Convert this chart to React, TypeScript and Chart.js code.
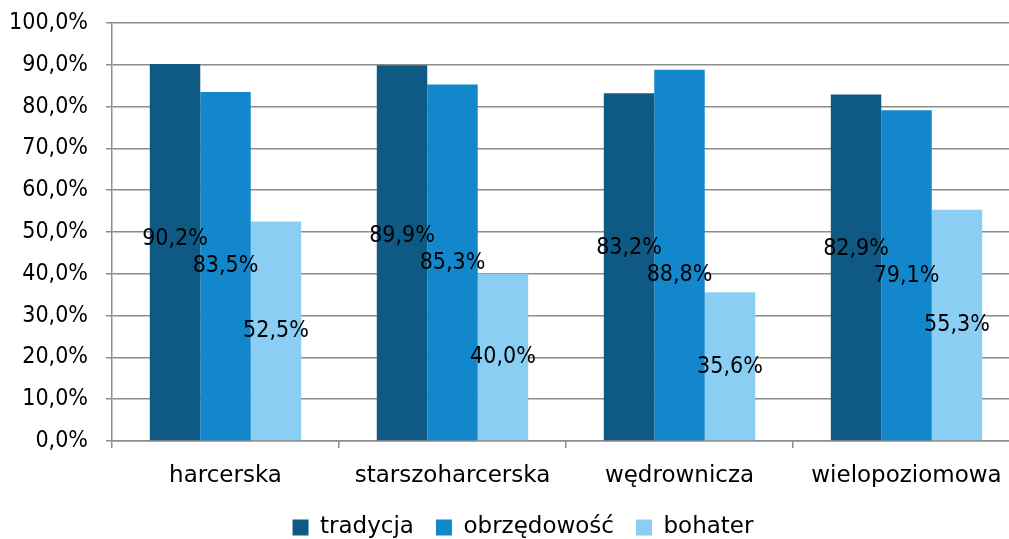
import React, { useEffect, useRef } from "react";
import { Chart, registerables } from "chart.js";

Chart.register(...registerables);

const categories = ["harcerska", "starszoharcerska", "wędrownicza", "wielopoziomowa"];
const tradycja = [90.2, 89.9, 83.2, 82.9];
const obrzedowosc = [83.5, 85.3, 88.8, 79.1];
const bohater = [52.5, 40.0, 35.6, 55.3];
const seriesNames = ["tradycja", "obrzędowość", "bohater"];
const colors = ["#0E5A84", "#1387CB", "#8ACEF4"];

const FONT = "'DejaVu Sans', sans-serif";
const FONT_C = "'DejaVu Sans Condensed', 'DejaVu Sans', sans-serif";

const fmt = (v: number) => v.toFixed(1).replace(".", ",") + "%";

const labelPlugin = {
  id: "midLabels",
  afterDatasetsDraw(chart: any) {
    const ctx = chart.ctx;
    const yScale = chart.scales.y;
    const n = chart.data.labels.length;
    const G = 27;
    ctx.save();
    ctx.font = `23px ${FONT_C}`;
    ctx.fillStyle = "#000";
    ctx.textAlign = "center";
    ctx.textBaseline = "middle";
    for (let i = 0; i < n; i++) {
      const pos: { x: number; y: number; t: string }[] = [];
      chart.data.datasets.forEach((ds: any, di: number) => {
        const el = chart.getDatasetMeta(di).data[i];
        const v = ds.data[i];
        pos.push({ x: el.x, y: yScale.getPixelForValue(v / 2), t: fmt(v) });
      });
      const a = pos[0], b = pos[1];
      if (Math.abs(a.y - b.y) < G) {
        if (b.y >= a.y) {
          a.y = b.y - G;
        } else {
          const mid = (a.y + b.y) / 2;
          a.y = mid - G / 2;
          b.y = mid + G / 2;
        }
      }
      pos.forEach((p) => ctx.fillText(p.t, p.x, p.y));
    }
    ctx.restore();
  },
};

const legendShift = {
  id: "legendShift",
  afterLayout(chart: any) {
    const lg = chart.legend;
    if (lg) {
      lg.left += 13;
      lg.right += 13;
    }
  },
};

export default function App() {
  const ref = useRef<HTMLCanvasElement | null>(null);
  useEffect(() => {
    if (!ref.current) return;
    const chart = new Chart(ref.current, {
      type: "bar",
      data: {
        labels: categories,
        datasets: [tradycja, obrzedowosc, bohater].map((d, i) => ({
          label: seriesNames[i],
          data: d,
          backgroundColor: colors[i],
          borderWidth: 0,
          categoryPercentage: 0.667,
          barPercentage: 1.0,
        })),
      },
      options: {
        responsive: false,
        animation: false,
        layout: { padding: { left: 0, right: 5, top: 23, bottom: -10 } },
        plugins: {
          tooltip: { enabled: false },
          legend: {
            position: "bottom",
            labels: {
              font: { family: FONT, size: 23 },
              color: "#000",
              boxWidth: 16,
              boxHeight: 16,
              padding: 22,
            },
          },
        },
        scales: {
          x: {
            grid: {
              offset: true,
              drawOnChartArea: false,
              drawTicks: true,
              tickLength: 7,
              color: "#8C8C8C",
              lineWidth: 1.5,
            },
            border: { color: "#8C8C8C", width: 1.5 },
            ticks: {
              font: { family: FONT, size: 23 },
              color: "#000",
              padding: 14,
            },
            afterFit(scale: any) {
              scale.height = 53;
            },
          },
          y: {
            min: 0,
            max: 100,
            ticks: {
              stepSize: 10,
              font: { family: FONT_C, size: 23 },
              color: "#000",
              padding: 18,
              callback: (v: any) => fmt(Number(v)),
            },
            grid: { color: "#8C8C8C", lineWidth: 1.5, tickLength: 6 },
            border: { color: "#8C8C8C", width: 1.5 },
            afterFit(scale: any) {
              scale.width = 112;
              scale.paddingTop = 0;
              scale.paddingBottom = 0;
            },
          },
        },
      },
      plugins: [labelPlugin, legendShift],
    });
    return () => chart.destroy();
  }, []);
  return (
    <div
      style={{
        position: "fixed",
        left: 0,
        top: 0,
        width: 1009,
        height: 539,
        overflow: "hidden",
        background: "#fff",
      }}
    >
      <canvas ref={ref} width={1025} height={539} style={{ display: "block" }} />
    </div>
  );
}
